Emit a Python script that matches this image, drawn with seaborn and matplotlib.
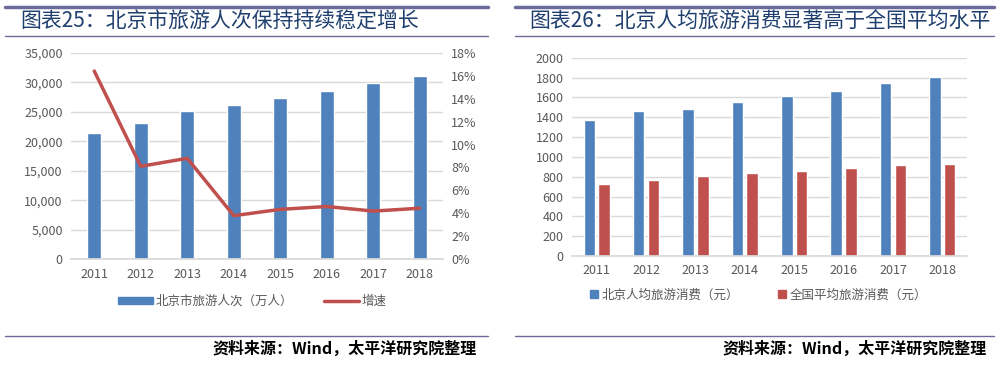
import matplotlib.pyplot as plt
import numpy as np
import pandas as pd
import seaborn as sns
from matplotlib.lines import Line2D
from matplotlib.patches import Patch
from matplotlib.ticker import FuncFormatter

# data
years = ['2011', '2012', '2013', '2014', '2015', '2016', '2017', '2018']
visitors = [21400, 23100, 25100, 26100, 27300, 28500, 29800, 31100]
growth = [16.4, 8.1, 8.8, 3.8, 4.35, 4.6, 4.2, 4.45]
bj_spend = [1370, 1460, 1480, 1550, 1610, 1660, 1740, 1805]
cn_spend = [730, 765, 805, 840, 855, 890, 915, 930]

blue = '#4F81BD'
red = '#C0504D'
grid_c = '#D9D9D9'
tick_c = '#595959'
title_c = '#1F3F6E'
rule_c = '#6B6B9B'

sns.set_theme(style='white')
plt.rcParams['font.family'] = ['Noto Sans CJK SC', 'DejaVu Sans']

fig = plt.figure(figsize=(10.02, 3.65), dpi=100)

def px(x, y):
    return x / 1002, 1 - y / 365

# header / footer rules
for x0, x1 in [(5, 488), (515, 994)]:
    fig.add_artist(Line2D([x0 / 1002, x1 / 1002], [px(0, 7)[1]] * 2, color=rule_c, lw=2.5))
    fig.add_artist(Line2D([x0 / 1002, x1 / 1002], [px(0, 35.5)[1]] * 2, color=rule_c, lw=1))
    fig.add_artist(Line2D([x0 / 1002, x1 / 1002], [px(0, 336)[1]] * 2, color=rule_c, lw=1))

fig.text(*px(20, 22), '图表25：北京市旅游人次保持持续稳定增长', fontsize=15, fontweight='medium',
         color=title_c, va='center', ha='left')
fig.text(*px(529, 22), '图表26：北京人均旅游消费显著高于全国平均水平', fontsize=15, fontweight='medium',
         color=title_c, va='center', ha='left')
for xr in [477, 987]:
    fig.text(*px(xr, 349), '资料来源：Wind，太平洋研究院整理', fontsize=11.5, fontstyle='italic',
             fontweight='bold', color='black', ha='right', va='center')

# left chart
ax1 = fig.add_axes([71 / 1002, 1 - 259.3 / 365, 372 / 1002, 206.6 / 365])
df1 = pd.DataFrame({'year': years, 'visitors': visitors})
sns.barplot(data=df1, x='year', y='visitors', color=blue, saturation=1, width=0.3, ax=ax1)
ax1.set_ylim(0, 35000)
ax1.set_yticks(np.arange(0, 35001, 5000))
ax1.yaxis.set_major_formatter(FuncFormatter(lambda v, p: f'{int(v):,}'))
ax1.set_xlim(-0.5, 7.5)
ax1.grid(axis='y', color=grid_c, lw=1)
ax1.set_axisbelow(True)
ax1.set_xlabel('')
ax1.set_ylabel('')

ax1b = ax1.twinx()
sns.lineplot(x=np.arange(len(years)), y=growth, color=red, lw=2.5, ax=ax1b)
ax1b.set_ylim(0, 18)
ax1b.set_yticks(np.arange(0, 19, 2))
ax1b.yaxis.set_major_formatter(FuncFormatter(lambda v, p: f'{int(v)}%'))
ax1b.set_xlim(-0.5, 7.5)

for a in [ax1, ax1b]:
    for s in a.spines.values():
        s.set_visible(False)
    a.tick_params(length=0, labelsize=9, labelcolor=tick_c, pad=6)
ax1.spines['bottom'].set_visible(True)
ax1.spines['bottom'].set_color(grid_c)

handles1 = [Patch(color=blue, label='北京市旅游人次（万人）'),
            Line2D([], [], color=red, lw=2.5, label='增速')]
fig.legend(handles=handles1, loc='center', bbox_to_anchor=(252 / 1002, 1 - 301 / 365), ncol=2,
           frameon=False, fontsize=9, labelcolor=tick_c, handlelength=2.8, handleheight=0.5,
           columnspacing=2.5, handletextpad=0.2)

# right chart
ax2 = fig.add_axes([572 / 1002, 1 - 256 / 365, 395 / 1002, 198.3 / 365])
df2 = pd.DataFrame({
    'year': years * 2,
    'value': bj_spend + cn_spend,
    'series': ['北京人均旅游消费（元）'] * len(years) + ['全国平均旅游消费（元）'] * len(years),
})
sns.barplot(data=df2, x='year', y='value', hue='series', palette=[blue, red], saturation=1,
            width=0.6, gap=0.22, ax=ax2, legend=False)
ax2.set_ylim(0, 2000)
ax2.set_yticks(np.arange(0, 2001, 200))
ax2.set_xlim(-0.5, 7.5)
ax2.grid(axis='y', color=grid_c, lw=1)
ax2.set_axisbelow(True)
ax2.set_xlabel('')
ax2.set_ylabel('')
for s in ax2.spines.values():
    s.set_visible(False)
ax2.spines['bottom'].set_visible(True)
ax2.spines['bottom'].set_color(grid_c)
ax2.tick_params(length=0, labelsize=9, labelcolor=tick_c, pad=6)

handles2 = [Line2D([], [], marker='s', ls='', color=blue, markersize=6, label='北京人均旅游消费（元）'),
            Line2D([], [], marker='s', ls='', color=red, markersize=6, label='全国平均旅游消费（元）')]
fig.legend(handles=handles2, loc='center', bbox_to_anchor=(758 / 1002, 1 - 295 / 365), ncol=2,
           frameon=False, fontsize=9, labelcolor=tick_c, handlelength=0.8,
           columnspacing=3, handletextpad=0.2)

fig.savefig('out.png', dpi=100)
